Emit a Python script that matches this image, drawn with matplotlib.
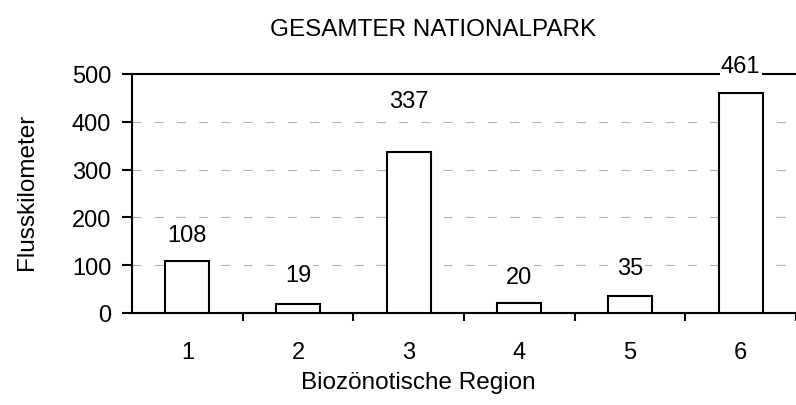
import matplotlib.pyplot as plt
import numpy as np

plt.rcParams['font.family'] = ['Liberation Sans', 'DejaVu Sans']

# data
regions = ['1', '2', '3', '4', '5', '6']
km = [108, 19, 337, 20, 35, 461]
# label offset above bar (points)
label_off = [19, 21, 37, 19, 20, 19]

fig = plt.figure(figsize=(7.96, 4.06), dpi=100)
ax = fig.add_axes([132/796, 92/406, 1 - 132/796, 239/406])

x = np.arange(1, len(km) + 1)
ax.bar(x, km, width=0.4, color='white', edgecolor='black', linewidth=1.5, zorder=3)

for xi, v, off in zip(x, km, label_off):
    ax.annotate(str(v), (xi, v), xytext=(0, off), textcoords='offset points',
                ha='center', va='center', fontsize=17,
                bbox=dict(facecolor='white', edgecolor='none', pad=1), zorder=5)

ax.set_ylim(0, 500)
ax.set_xlim(0.5, 0.5 + 664/111.3)
ax.set_yticks([0, 100, 200, 300, 400, 500])
ax.set_xticks(x)
ax.set_xticklabels(regions)
ax.set_xticks(np.arange(1.5, 7, 1), minor=True)

ax.tick_params(axis='x', which='major', length=0, pad=20, labelsize=17)
ax.tick_params(axis='x', which='minor', length=6, width=1.5, direction='out')
ax.tick_params(axis='y', length=7, width=1.5, pad=8, labelsize=17)

for v in [100, 200, 300, 400]:
    ax.axhline(v, color='#b0b0b0', linewidth=0.8, linestyle=(0, (8, 12)), zorder=1)

ax.spines['right'].set_visible(False)
for s in ['left', 'bottom', 'top']:
    ax.spines[s].set_linewidth(1.5)
ax.spines['top'].set_zorder(2)

fig.text(433/796, 1 - 30/406, 'GESAMTER NATIONALPARK', ha='center', va='center', fontsize=17.5)
fig.text(418/796, 1 - 383/406, 'Biozönotische Region', ha='center', va='center', fontsize=17.5)
fig.text(27/796, 1 - 192/406, 'Flusskilometer', ha='center', va='center', rotation=90, fontsize=17.5)

fig.savefig('out.png', dpi=100)
